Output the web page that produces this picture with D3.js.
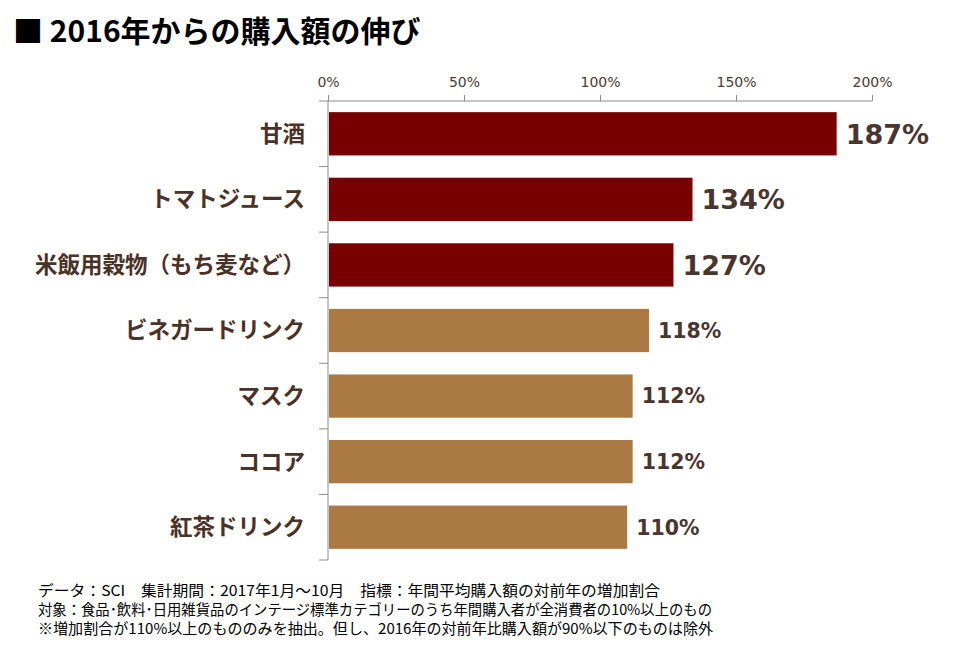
<!DOCTYPE html>
<html>
<head>
<meta charset="utf-8">
<script src="https://cdn.jsdelivr.net/npm/d3@7"></script>
<style>
  body { margin: 0; background: #fff; }
  svg { display: block; font-family: "Noto Sans CJK JP", "Noto Sans", sans-serif; }
</style>
</head>
<body>
<div id="chart"></div>
<script>
// Data
const categories = ["甘酒", "トマトジュース", "米飯用穀物（もち麦など）", "ビネガードリンク", "マスク", "ココア", "紅茶ドリンク"];
const values = [187, 134, 127, 118, 112, 112, 110];
const highlighted = [true, true, true, false, false, false, false];
const tickValues = [0, 50, 100, 150, 200];
const notes = [
    "データ：SCI　集計期間：2017年1月～10月　指標：年間平均購入額の対前年の増加割合",
    "対象：食品･飲料･日用雑貨品のインテージ標準カテゴリーのうち年間購入者が全消費者の10%以上のもの",
    "※増加割合が110%以上のもののみを抽出。但し、2016年の対前年比購入額が90%以下のものは除外"
];
const noteWidths = [622, 674, 675]; // line lengths in px, to match the original's font

const width = 960, height = 649;
const margin = { top: 101, left: 328, right: 88, bottom: 89 };

const svg = d3.select("#chart").append("svg")
    .attr("width", width)
    .attr("height", height);

// Title
svg.append("text")
    .attr("x", 13)
    .attr("y", 42)
    .style("font-size", "30px")
    .style("font-weight", "bold")
    .attr("fill", "#000")
    .text("■ 2016年からの購入額の伸び");

const x = d3.scaleLinear()
    .domain([0, 200])
    .range([margin.left, width - margin.right]);

const y = d3.scaleBand()
    .domain(categories)
    .range([margin.top, height - margin.bottom])
    .paddingInner(0.34)
    .paddingOuter(0.17);

// Bars
svg.selectAll("rect.bar")
    .data(categories)
    .enter()
    .append("rect")
    .attr("class", "bar")
    .attr("x", x(0) + 1)
    .attr("y", d => y(d))
    .attr("width", (d, i) => x(values[i]) - x(0) - 1)
    .attr("height", y.bandwidth())
    .attr("fill", (d, i) => highlighted[i] ? "#780000" : "#ab7943");

// Top axis
const xAxis = svg.append("g")
    .attr("transform", `translate(0,${margin.top})`)
    .call(d3.axisTop(x)
        .tickValues(tickValues)
        .tickSize(6)
        .tickPadding(8)
        .tickFormat(d => d + "%"));
xAxis.select(".domain").remove();
xAxis.selectAll(".tick line").attr("stroke", "#8c8c8c");
xAxis.selectAll(".tick text")
    .attr("fill", "#4a3a35")
    .style("font-family", "Tahoma, 'DejaVu Sans', sans-serif")
    .style("font-size", "14px");
svg.append("line")
    .attr("x1", x(0) - 9).attr("x2", x(200))
    .attr("y1", margin.top).attr("y2", margin.top)
    .attr("stroke", "#8c8c8c");

// Left axis line with boundary ticks
const boundaries = d3.range(categories.length + 1).map(i =>
    margin.top + i * (height - margin.bottom - margin.top) / categories.length);
svg.append("line")
    .attr("x1", x(0)).attr("x2", x(0))
    .attr("y1", margin.top).attr("y2", height - margin.bottom)
    .attr("stroke", "#8c8c8c");
svg.selectAll("line.btick")
    .data(boundaries.slice(1))
    .enter()
    .append("line")
    .attr("class", "btick")
    .attr("x1", x(0) - 9).attr("x2", x(0))
    .attr("y1", d => d).attr("y2", d => d)
    .attr("stroke", "#8c8c8c");

// Category labels
svg.selectAll("text.cat")
    .data(categories)
    .enter()
    .append("text")
    .attr("class", "cat")
    .attr("x", 305)
    .attr("y", d => y(d) + y.bandwidth() / 2)
    .attr("dy", "0.35em")
    .attr("text-anchor", "end")
    .attr("fill", "#4a3228")
    .style("font-size", "22.5px")
    .style("font-weight", "bold")
    .text(d => d);

// Value labels
svg.selectAll("text.val")
    .data(categories)
    .enter()
    .append("text")
    .attr("class", "val")
    .attr("x", (d, i) => x(values[i]) + 9)
    .attr("y", d => y(d) + y.bandwidth() / 2)
    .attr("dy", "0.36em")
    .attr("fill", "#4a3630")
    .style("font-family", "Tahoma, 'DejaVu Sans', sans-serif")
    .style("font-weight", "bold")
    .style("font-size", (d, i) => highlighted[i] ? "27px" : "20.5px")
    .text((d, i) => values[i] + "%");

// Footnotes
svg.selectAll("text.note")
    .data(notes)
    .enter()
    .append("text")
    .attr("class", "note")
    .attr("x", 38)
    .attr("y", (d, i) => 596 + i * 19)
    .attr("fill", "#000")
    .attr("textLength", (d, i) => noteWidths[i])
    .attr("lengthAdjust", "spacingAndGlyphs")
    .style("font-size", "15px")
    .text(d => d);
</script>
</body>
</html>
